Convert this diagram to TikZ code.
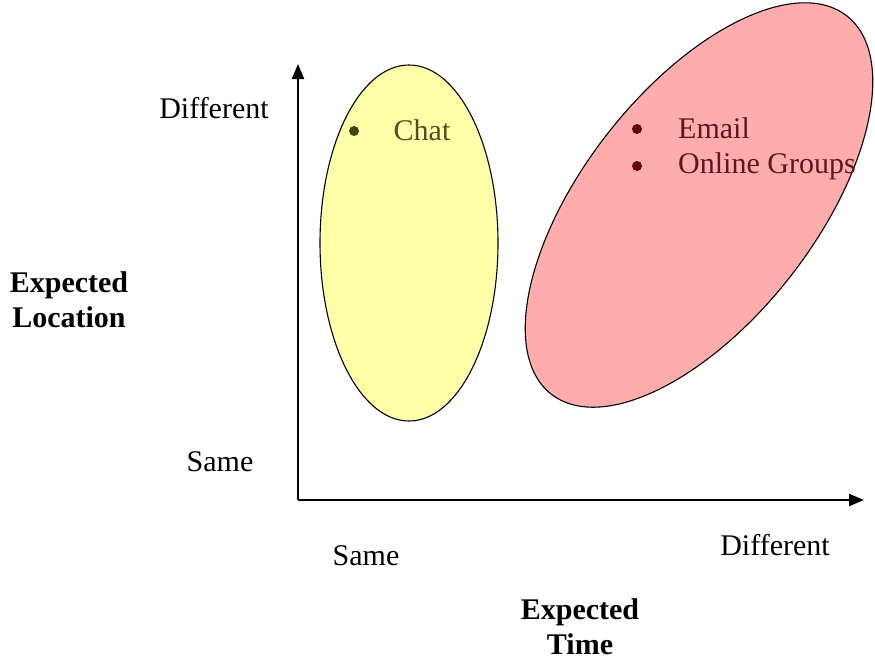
\documentclass[tikz,border=0pt]{standalone}
\usepackage{fontspec}
\setmainfont{Liberation Serif}
\usetikzlibrary{arrows.meta,shapes.geometric}
\definecolor{yfill}{RGB}{255,255,168}
\definecolor{pfill}{RGB}{255,172,172}
\definecolor{chatc}{RGB}{78,78,40}
\definecolor{chatb}{RGB}{60,72,20}
\definecolor{mailc}{RGB}{96,22,34}
\definecolor{mailb}{RGB}{100,0,10}
\tikzset{
  axis/.style={line width=2pt,-{Triangle[length=15pt,width=12pt]}},
  lab/.style={font=\fontsize{30}{35}\selectfont, inner sep=0pt},
  title/.style={font=\fontsize{30}{35}\selectfont\bfseries, align=center, inner sep=0pt},
  blob/.style={ellipse, draw=black, line width=1.1pt, inner sep=0pt, outer sep=0pt},
  dotc/.style={circle, inner sep=0pt, minimum size=10pt},
}
\begin{document}
\begin{tikzpicture}[x=1pt,y=-1pt]
\useasboundingbox (0,0) rectangle (875,659);
% ellipses
\node[blob, fill=yfill, minimum width=178pt, minimum height=356pt] (chatblob) at (409,243) {};
\node[blob, fill=pfill, minimum width=480pt, minimum height=232pt, rotate=52] (asyncblob) at (699,205) {};
% axes
\coordinate (origin) at (298,500);
\coordinate (ytip) at (298,64);
\coordinate (xtip) at (864,500);
\draw[axis] (origin) -- (ytip);
\draw[axis] (origin) -- (xtip);
% axis labels
\node[lab] (ydiff) at (214,108) {Different};
\node[lab] (ysame) at (220,462) {Same};
\node[title] (ytitle) at (69,300) {Expected\\Location};
\node[lab] (xsame) at (366,556) {Same};
\node[lab] (xdiff) at (775,545) {Different};
\node[title] (xtitle) at (580,627) {Expected\\Time};
% items
\node[dotc, fill=chatb] (chatdot) at (354,131) {};
\node[lab, text=chatc] (chat) at (422,130) {Chat};
\node[dotc, fill=mailb] (maildot) at (637,129) {};
\node[lab, text=mailc, anchor=west] (email) at (678,128) {Email};
\node[dotc, fill=mailb] (groupdot) at (637,166) {};
\node[lab, text=mailc, anchor=west] (groups) at (678,166) {Online Groups};
\end{tikzpicture}
\end{document}
